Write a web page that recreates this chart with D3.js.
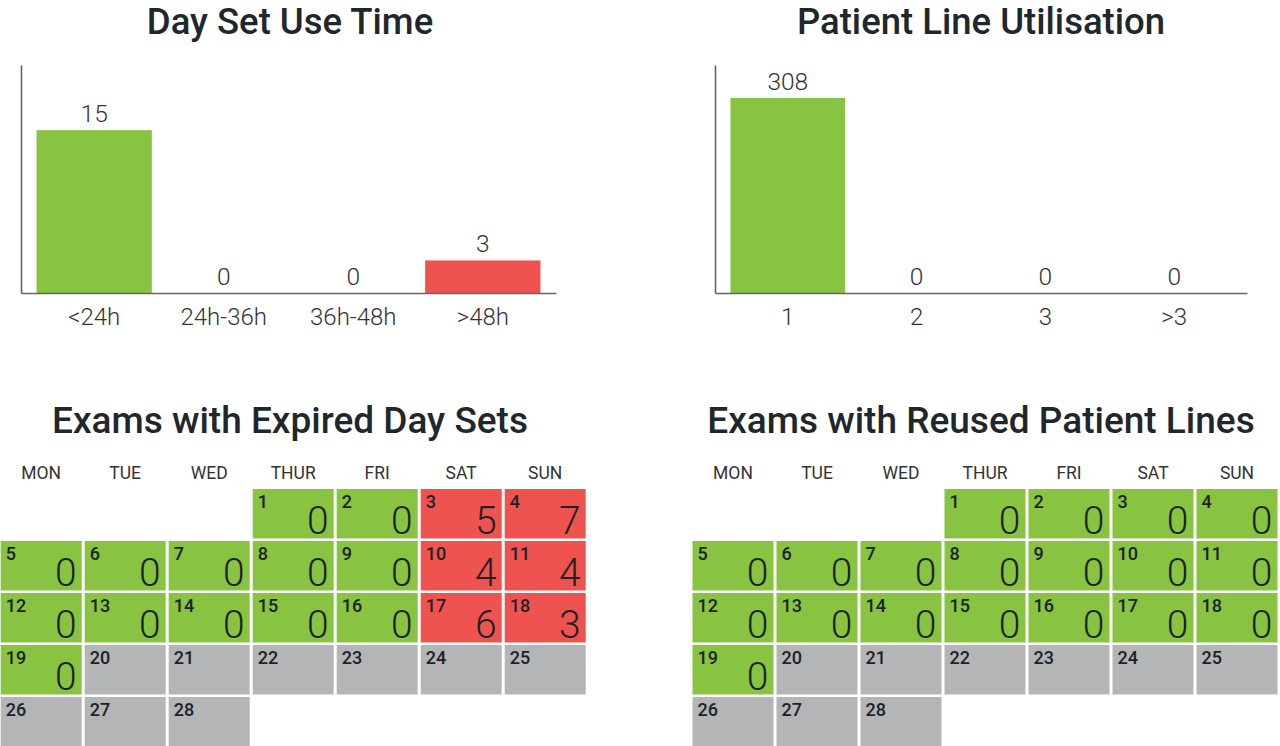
<!DOCTYPE html>
<html>
<head>
<meta charset="utf-8">
<script src="https://cdn.jsdelivr.net/npm/d3@7"></script>
<style>
  html, body { margin: 0; padding: 0; background: #fff; }
  svg { display: block; font-family: Roboto, "Noto Sans", sans-serif; }
</style>
</head>
<body>
<svg id="chart" width="1280" height="746"></svg>
<script>
// ---------- DATA ----------
const daySetCategories = ["<24h", "24h-36h", "36h-48h", ">48h"];
const daySetValues = [15, 0, 0, 3];

const lineCategories = ["1", "2", "3", ">3"];
const lineValues = [308, 0, 0, 0];

const weekdayLabels = ["MON", "TUE", "WED", "THUR", "FRI", "SAT", "SUN"];
const daysInMonth = 28;
const firstWeekdayIndex = 3; // month starts on THUR

// values per day (days 1..19 have data, later days none)
const expiredDaySetValues = [0, 0, 5, 7, 0, 0, 0, 0, 0, 4, 4, 0, 0, 0, 0, 0, 6, 3, 0];
const reusedLineValues   = [0, 0, 0, 0, 0, 0, 0, 0, 0, 0, 0, 0, 0, 0, 0, 0, 0, 0, 0];

const titles = ["Day Set Use Time", "Patient Line Utilisation",
                "Exams with Expired Day Sets", "Exams with Reused Patient Lines"];

// ---------- STYLE ----------
const GREEN = "#88c341";
const RED = "#ef5350";
const GRAY = "#b3b5b7";
const TITLE_COLOR = "#1f272c";
const TEXT_COLOR = "#333";

const svg = d3.select("#chart");

function title(text, cx, baseline, size) {
  svg.append("text")
    .attr("x", cx).attr("y", baseline)
    .attr("text-anchor", "middle")
    .attr("font-size", size).attr("font-weight", 500)
    .attr("fill", TITLE_COLOR)
    .text(text);
}

function barChart(categories, values, opts) {
  const x = d3.scaleBand().domain(categories)
    .range(opts.xRange).paddingInner(0.11).paddingOuter(0.12);
  const y = d3.scaleLinear().domain([0, opts.yMax]).range([293, 65]);
  const colour = d3.scaleOrdinal().domain(categories).range(opts.colours);
  const g = svg.append("g");

  g.selectAll("rect.bar").data(categories).join("rect")
    .attr("class", "bar")
    .attr("x", d => x(d))
    .attr("width", x.bandwidth())
    .attr("y", (d, i) => y(values[i]))
    .attr("height", (d, i) => y(0) - y(values[i]))
    .attr("fill", d => colour(d));

  g.selectAll("text.val").data(categories).join("text")
    .attr("class", "val")
    .attr("x", d => x(d) + x.bandwidth() / 2)
    .attr("y", (d, i) => y(values[i]) - 8)
    .attr("text-anchor", "middle")
    .attr("font-size", 24.5).attr("font-weight", 300)
    .attr("fill", TEXT_COLOR)
    .text((d, i) => values[i]);

  const yAxis = g.append("g")
    .attr("transform", `translate(${opts.xRange[0]},0)`)
    .call(d3.axisLeft(y).tickValues([]).tickSizeOuter(0));
  const xAxis = g.append("g")
    .attr("transform", `translate(0,${y(0)})`)
    .call(d3.axisBottom(x).tickSize(0).tickSizeOuter(0).tickPadding(15));
  [yAxis, xAxis].forEach(a => a.select(".domain").attr("stroke", "#666").attr("stroke-width", 1.6));
  xAxis.selectAll("text")
    .attr("font-size", 24).attr("font-weight", 300)
    .attr("font-family", "Roboto, sans-serif")
    .attr("fill", TEXT_COLOR);
}

function calendar(values, x0) {
  const cols = d3.scaleBand().domain(d3.range(7))
    .range([x0, x0 + 7 * 84 - 3]).paddingInner(3 / 84).paddingOuter(0);
  const rows = d3.scaleBand().domain(d3.range(5))
    .range([489, 489 + 5 * 52 - 2.5]).paddingInner(2.5 / 52).paddingOuter(0);

  const g = svg.append("g");
  g.selectAll("text.wd").data(weekdayLabels).join("text")
    .attr("class", "wd")
    .attr("x", (d, i) => cols(i) + cols.bandwidth() / 2)
    .attr("y", 479)
    .attr("text-anchor", "middle")
    .attr("font-size", 17.5).attr("font-weight", 400)
    .attr("fill", TEXT_COLOR)
    .text(d => d);

  const days = d3.range(1, daysInMonth + 1).map(day => {
    const idx = day - 1 + firstWeekdayIndex;
    return { day, col: idx % 7, row: Math.floor(idx / 7), value: values[day - 1] };
  });

  const cell = g.selectAll("g.cell").data(days).join("g")
    .attr("class", "cell")
    .attr("transform", d => `translate(${cols(d.col)},${rows(d.row)})`);

  cell.append("rect")
    .attr("width", cols.bandwidth())
    .attr("height", rows.bandwidth())
    .attr("fill", d => d.value === undefined ? GRAY : (d.value > 0 ? RED : GREEN));

  cell.append("text")
    .attr("x", 5).attr("y", 19)
    .attr("font-size", 18).attr("font-weight", 500)
    .attr("fill", "#1d2226")
    .text(d => d.day);

  cell.filter(d => d.value !== undefined).append("text")
    .attr("x", cols.bandwidth() - 5)
    .attr("y", rows.bandwidth() - 5)
    .attr("text-anchor", "end")
    .attr("font-size", 39).attr("font-weight", 300)
    .attr("fill", "#1d2226")
    .text(d => d.value);
}

title(titles[0], 290, 34, 36.5);
title(titles[1], 981, 34, 36.5);
title(titles[2], 290, 433, 37);
title(titles[3], 981, 433, 37);

barChart(daySetCategories, daySetValues, { xRange: [21, 556], yMax: 21, colours: [GREEN, GREEN, GREEN, RED] });
barChart(lineCategories, lineValues, { xRange: [715, 1247], yMax: 360, colours: [GREEN, GREEN, GREEN, GREEN] });

calendar(expiredDaySetValues, 0.7);
calendar(reusedLineValues, 692.5);
</script>
</body>
</html>
